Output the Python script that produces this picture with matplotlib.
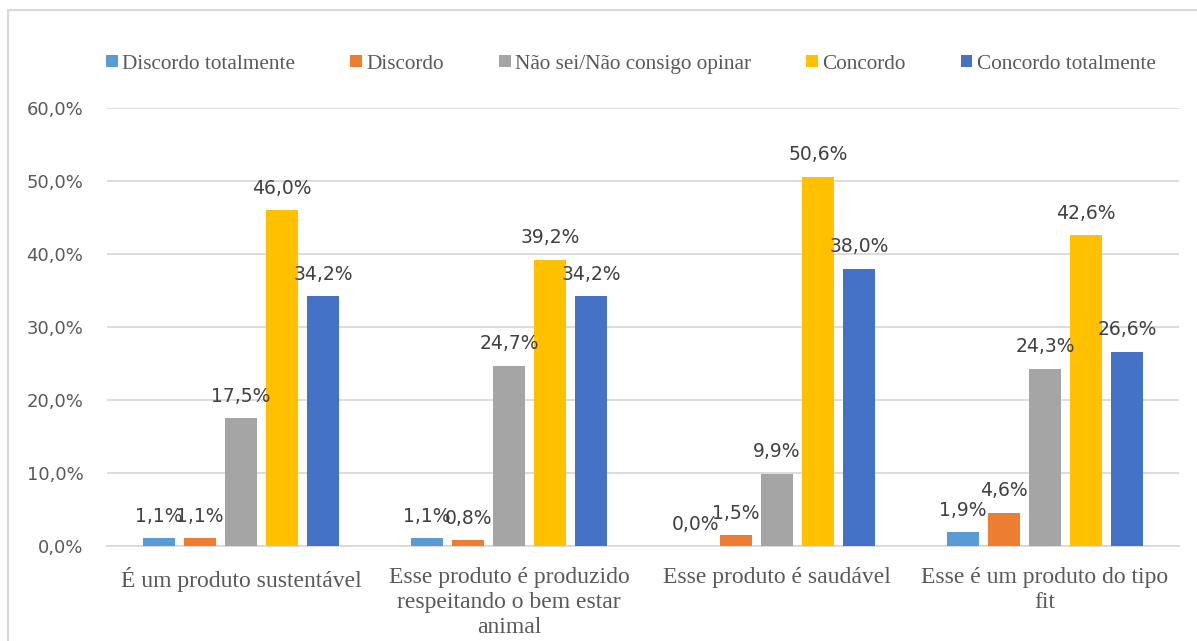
import matplotlib
matplotlib.use('Agg')
import matplotlib.pyplot as plt
import numpy as np
from matplotlib.patches import Rectangle

categories = ['É um produto sustentável',
              'Esse produto é produzido\nrespeitando o bem estar\nanimal',
              'Esse produto é saudável',
              'Esse é um produto do tipo\nfit']
series_names = ['Discordo totalmente', 'Discordo', 'Não sei/Não consigo opinar',
                'Concordo', 'Concordo totalmente']
discordo_tot = [1.1, 1.1, 0.0, 1.9]
discordo = [1.1, 0.8, 1.5, 4.6]
nao_sei = [17.5, 24.7, 9.9, 24.3]
concordo = [46.0, 39.2, 50.6, 42.6]
concordo_tot = [34.2, 34.2, 38.0, 26.6]
colors = ['#5B9BD5', '#ED7D31', '#A5A5A5', '#FFC000', '#4472C4']

series = [discordo_tot, discordo, nao_sei, concordo, concordo_tot]

fig = plt.figure(figsize=(11.97, 6.41), dpi=100)
ax = fig.add_axes([0.0894, 0.148, 0.8956, 0.6835])

x = np.arange(len(categories))
step = 0.153
width = 0.1195
for i, (vals, name, c) in enumerate(zip(series, series_names, colors)):
    pos = x + (i - 2) * step
    bars = ax.bar(pos, vals, width, color=c, label=name, zorder=3)
    for b, v in zip(bars, vals):
        ax.annotate(f'{v:.1f}%'.replace('.', ','),
                    (b.get_x() + b.get_width() / 2, v),
                    xytext=(0, 9), textcoords='offset points',
                    ha='center', va='bottom', fontsize=13.5,
                    color='#404040', family='DejaVu Sans', zorder=4)

ax.set_xlim(-0.5, len(categories) - 0.5)
ax.set_ylim(0, 60)
ax.set_yticks(np.arange(0, 61, 10))
ax.set_yticklabels([f'{t:.1f}%'.replace('.', ',') for t in np.arange(0, 61, 10)],
                   fontsize=13, color='#595959', family='DejaVu Sans')
ax.set_xticks(x)
ax.set_xticklabels(categories, fontsize=17, color='#595959',
                   family='Liberation Serif', linespacing=1.25)
ax.tick_params(axis='both', length=0)
ax.tick_params(axis='y', pad=17)
ax.tick_params(axis='x', pad=15)
ax.yaxis.grid(True, color='#D9D9D9', linewidth=1.3, zorder=0)
for s in ['top', 'right', 'left']:
    ax.spines[s].set_visible(False)
ax.spines['bottom'].set_color('#D9D9D9')
ax.spines['bottom'].set_linewidth(1.3)

leg = fig.legend(loc='center', bbox_to_anchor=(0.527, 0.9), ncol=5, frameon=False,
                 prop={'family': 'Liberation Serif', 'size': 15.3},
                 handlelength=0.55, handleheight=0.55, handletextpad=0.2,
                 columnspacing=2.6)
for t in leg.get_texts():
    t.set_color('#595959')

# chart area border (partially cut off)
fig.patches.append(Rectangle((8 / 1197, -0.1), 1.2, 1.1 - 10 / 641,
                             transform=fig.transFigure, fill=False,
                             edgecolor='#D9D9D9', linewidth=1.5))

fig.savefig('out.png', dpi=100)
